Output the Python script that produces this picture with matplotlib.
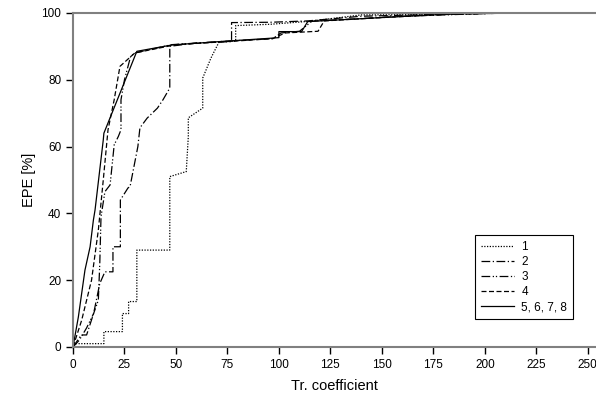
import matplotlib
matplotlib.use("Agg")
import matplotlib.pyplot as plt

plt.rcParams['font.family'] = ['Liberation Sans', 'DejaVu Sans']

# curves (Tr. coefficient, EPE %)
s1_x = [0, 15, 15, 24, 24, 27, 27, 31, 31, 47, 47, 55, 56, 56, 63, 63, 67, 71, 79, 79, 96, 115, 140, 177, 210, 254]
s1_y = [1, 1, 4.6, 4.6, 10, 10, 13.6, 13.6, 29, 29, 51, 52.5, 63, 68.6, 71.5, 80.5, 86.5, 91.4, 91.5, 96.2, 96.6, 97.5, 99.4, 99.5, 100, 100]

s2_x = [0, 4, 6.6, 10, 13, 15.5, 19.4, 19.4, 23, 23, 26.7, 27.7, 31.5, 32.5, 36, 41, 43.7, 47, 47, 60, 77, 77, 96, 114, 140, 180, 215, 254]
s2_y = [0, 3.6, 3.6, 10, 19, 22.5, 22.5, 30, 30, 44, 47.6, 48, 60, 65.6, 68.5, 71.5, 74, 77.5, 90, 91, 91.4, 97.1, 97.2, 97.6, 99, 99.6, 100, 100]

s3_x = [0, 3, 6.6, 10, 12.3, 13, 13.6, 15.5, 18, 20, 22, 23.3, 23.3, 25, 28, 30, 48, 71, 97, 101, 110, 116, 160, 200, 220, 254]
s3_y = [0, 2, 5.7, 10, 14, 25, 39, 46.5, 48.5, 60.5, 63, 65, 74, 80, 87, 88, 90.5, 91.4, 92.3, 94, 94.5, 97.5, 99, 99.8, 100, 100]

s4_x = [0, 4.2, 9, 12.3, 14.7, 17, 20, 22.8, 30, 50, 77, 97, 103, 119, 122, 150, 180, 215, 254]
s4_y = [0, 8, 20, 35, 50, 65, 74, 84, 88, 90.5, 91.5, 92.3, 94, 94.5, 97.6, 98.6, 99.5, 100, 100]

s5_x = [0, 2.6, 5.8, 8.3, 9.9, 10.7, 14.7, 15, 31, 48, 71, 95.6, 100, 100, 111, 114, 168, 184.5, 210, 254]
s5_y = [0, 9, 23, 30, 38, 41, 62, 64, 88.5, 90.4, 91.4, 92.4, 92.6, 94.4, 94.4, 97.4, 99.2, 99.7, 100, 100]

labels = ['1', '2', '3', '4', '5, 6, 7, 8']
x_ticks = [0, 25, 50, 75, 100, 125, 150, 175, 200, 225, 250]
y_ticks = [0, 20, 40, 60, 80, 100]

fig = plt.figure(figsize=(5.96, 4.03), dpi=100)
ax = fig.add_axes([0.1225, 0.139, 0.8775, 0.829])

lw = 0.9
ax.plot(s1_x, s1_y, color='black', lw=lw, linestyle=(0, (1, 1.2)), label=labels[0])
ax.plot(s2_x, s2_y, color='black', lw=lw, linestyle=(0, (7, 2, 1, 2)), label=labels[1])
ax.plot(s3_x, s3_y, color='black', lw=lw, linestyle=(0, (7, 2, 1, 1.5, 1, 2)), label=labels[2])
ax.plot(s4_x, s4_y, color='black', lw=lw, linestyle=(0, (4, 2)), label=labels[3])
ax.plot(s5_x, s5_y, color='black', lw=lw, linestyle='-', label=labels[4])

ax.set_xlim(0, 254)
ax.set_ylim(0, 100)
ax.set_xticks(x_ticks)
ax.set_yticks(y_ticks)
ax.tick_params(direction='out', length=5, width=1, labelsize=8.5, color='black')

for side in ['left', 'bottom', 'top']:
    ax.spines[side].set_color('#808080')
    ax.spines[side].set_linewidth(1.5)
ax.spines['right'].set_visible(False)

ax.set_xlabel('Tr. coefficient', fontsize=10.5, labelpad=6)
ax.set_ylabel('EPE [%]', fontsize=10.5, labelpad=4)

leg = ax.legend(loc='lower left', bbox_to_anchor=(0.769, 0.084), borderaxespad=0,
                fontsize=8.5, fancybox=False, edgecolor='black', framealpha=1,
                handlelength=2.8, labelspacing=0.25, borderpad=0.5, handletextpad=0.6)
leg.get_frame().set_linewidth(0.8)

fig.savefig('out.png', dpi=100)
